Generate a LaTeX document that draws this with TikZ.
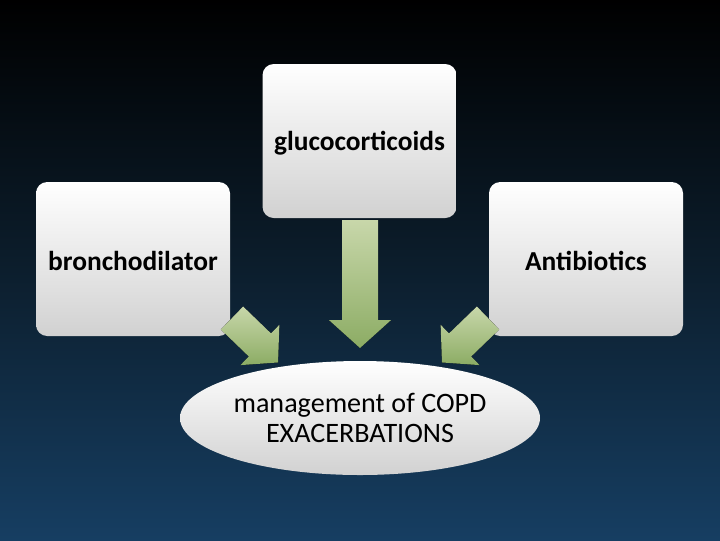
\documentclass[tikz,border=0pt]{standalone}
\usepackage{fontspec}
\setmainfont{Carlito}
\usetikzlibrary{shapes.geometric}
\tikzset{
  box/.style={rounded corners=8pt, top color=white, bottom color=black!18, draw=none,
    minimum width=194*0.025cm, minimum height=154*0.025cm},
  boxtext/.style={font=\bfseries\fontsize{19.5}{23}\selectfont},
  fatarrow/.style={draw=none, top color={rgb,255:red,200;green,215;blue,170}, bottom color={rgb,255:red,140;green,172;blue,100}},
}
\newcommand{\fatarrowpath}[3]{% length, shaft half, head half
  (0,-#2) -- ({#1-0.9*#3},-#2) -- ({#1-0.9*#3},-#3) -- (#1,0) -- ({#1-0.9*#3},#3) -- ({#1-0.9*#3},#2) -- (0,#2) -- cycle}
\begin{document}
\begin{tikzpicture}[x=0.025cm, y=-0.025cm]
\shade[top color=black, bottom color={rgb,255:red,22;green,62;blue,98}, middle color={rgb,255:red,12;green,30;blue,45}] (0,0) rectangle (720,540);
\useasboundingbox (0,0) rectangle (720,540);
% boxes
\node[box] (gluco) at (359.5,141) {};
\node[box] (bron) at (133,259) {};
\node[box] (anti) at (586,259) {};
\node[boxtext] (glucot) at (359.5,143) {glucocorticoids};
\node[boxtext] (bront) at (133,261) {bronchodilator};
\node[boxtext] (antit) at (586,261) {Antibiotics};
% arrows
\begin{scope}[shift={(360,220)}, rotate=-90]
  \fill[fatarrow] \fatarrowpath{128}{18}{31};
\end{scope}
\begin{scope}[shift={(232,318)}, rotate=-44]
  \fill[fatarrow] \fatarrowpath{64}{16}{28};
\end{scope}
\begin{scope}[shift={(488,318)}, rotate=-136]
  \fill[fatarrow] \fatarrowpath{64}{16}{28};
\end{scope}
% result
\node[ellipse, minimum width=360*0.025cm, minimum height=114*0.025cm, inner sep=0pt, top color=white, bottom color=black!18,
  align=center, font=\fontsize{20}{21}\selectfont] (copd) at (360,418) {management of COPD\\EXACERBATIONS};
\end{tikzpicture}
\end{document}
